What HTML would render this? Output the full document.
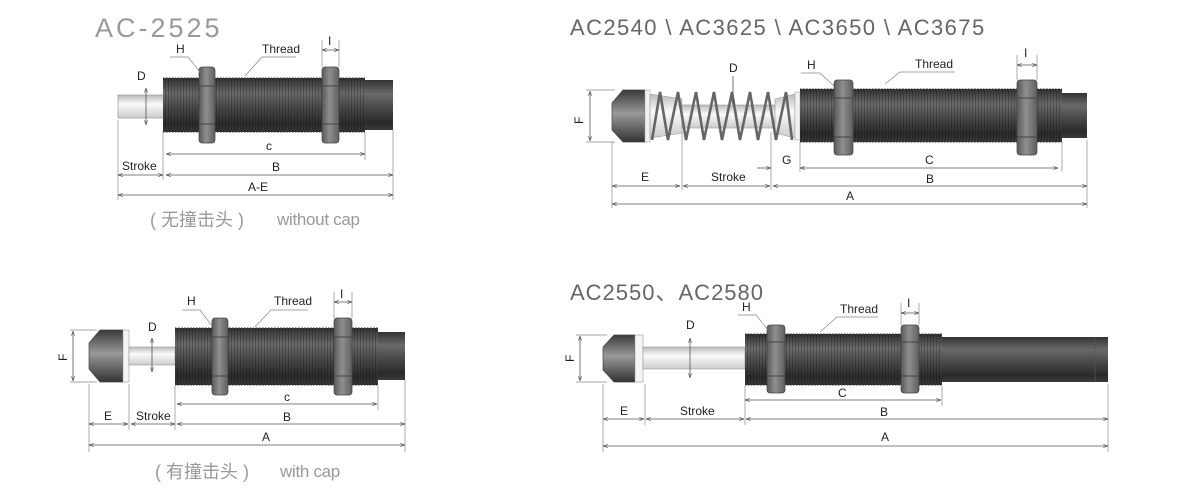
<!DOCTYPE html>
<html><head><meta charset="utf-8"><style>
html,body{margin:0;padding:0;background:#fff;}
svg{display:block;font-family:"Liberation Sans","Noto Sans CJK SC",sans-serif;}
.l{font-size:12px;fill:#222;}
.d{stroke:#555;stroke-width:0.8;fill:none;}
.e{stroke:#888;stroke-width:0.7;fill:none;}
.t{stroke:#333;stroke-width:3;stroke-dasharray:1.6 1.4;}
</style></head><body>
<svg width="1200" height="500" viewBox="0 0 1200 500">
<defs>
<linearGradient id="bg" x1="0" y1="0" x2="0" y2="1">
<stop offset="0" stop-color="#333"/><stop offset="0.28" stop-color="#6a6a6a"/><stop offset="0.55" stop-color="#4a4a4a"/><stop offset="0.85" stop-color="#2a2a2a"/><stop offset="1" stop-color="#3a3a3a"/></linearGradient>
<linearGradient id="ng" x1="0" y1="0" x2="1" y2="0">
<stop offset="0" stop-color="#5a5a5a"/><stop offset="0.45" stop-color="#8f8f8f"/><stop offset="1" stop-color="#5f5f5f"/></linearGradient>
<linearGradient id="rg" x1="0" y1="0" x2="0" y2="1">
<stop offset="0" stop-color="#bbb"/><stop offset="0.4" stop-color="#fafafa"/><stop offset="1" stop-color="#ccc"/></linearGradient>
<linearGradient id="cg" x1="0" y1="0" x2="0" y2="1">
<stop offset="0" stop-color="#3a3a3a"/><stop offset="0.45" stop-color="#999"/><stop offset="1" stop-color="#333"/></linearGradient>
<pattern id="st" patternUnits="userSpaceOnUse" width="3" height="10">
<rect x="0" y="0" width="1" height="10" fill="#000" opacity="0.22"/></pattern>
<marker id="a" viewBox="0 0 6 6" refX="6" refY="3" markerWidth="6" markerHeight="6" orient="auto-start-reverse">
<path d="M0,1 L6,3 L0,5" fill="none" stroke="#555" stroke-width="0.8"/></marker>
</defs>

<!-- ===== TOP LEFT ===== -->
<text x="95" y="37" font-size="27" fill="#999" letter-spacing="3">AC-2525</text>
<rect x="118" y="95" width="48" height="23" fill="url(#rg)" stroke="#999" stroke-width="0.7"/>
<rect x="163" y="78" width="202" height="54" fill="url(#bg)"/>
<rect x="163" y="78" width="202" height="54" fill="url(#st)"/>
<line class="t" x1="163" y1="79" x2="365" y2="79"/><line class="t" x1="163" y1="131" x2="365" y2="131"/>
<rect x="365" y="80" width="28" height="50" fill="url(#bg)"/>
<rect x="199" y="67" width="16" height="76" rx="3" fill="url(#ng)" stroke="#444" stroke-width="0.7"/>
<line x1="199" y1="86" x2="215" y2="86" stroke="#444"/><line x1="199" y1="124" x2="215" y2="124" stroke="#444"/>
<rect x="322" y="67" width="17" height="76" rx="3" fill="url(#ng)" stroke="#444" stroke-width="0.7"/>
<line x1="322" y1="86" x2="339" y2="86" stroke="#444"/><line x1="322" y1="124" x2="339" y2="124" stroke="#444"/>
<text class="l" x="137" y="80">D</text>
<line class="d" x1="146" y1="88" x2="146" y2="125" marker-start="url(#a)" marker-end="url(#a)"/>
<text class="l" x="176" y="53">H</text><polyline class="e" points="170,57 188,57 200,72"/>
<text class="l" x="262" y="53">Thread</text><polyline class="e" points="245,76 262,57 296,57"/>
<text class="l" x="328" y="45">I</text>
<line class="e" x1="322" y1="40" x2="322" y2="67"/><line class="e" x1="339" y1="40" x2="339" y2="67"/>
<line class="d" x1="322" y1="50" x2="339" y2="50" marker-start="url(#a)" marker-end="url(#a)"/>
<line class="e" x1="118" y1="120" x2="118" y2="200"/><line class="e" x1="163" y1="132" x2="163" y2="180"/>
<line class="e" x1="365" y1="132" x2="365" y2="160"/><line class="e" x1="393" y1="130" x2="393" y2="200"/>
<line class="d" x1="166" y1="154" x2="365" y2="154" marker-start="url(#a)" marker-end="url(#a)"/><text class="l" x="266" y="150">c</text>
<line class="d" x1="118" y1="175" x2="163" y2="175" marker-start="url(#a)" marker-end="url(#a)"/><text class="l" x="122" y="170">Stroke</text>
<line class="d" x1="166" y1="175" x2="393" y2="175" marker-start="url(#a)" marker-end="url(#a)"/><text class="l" x="272" y="171">B</text>
<line class="d" x1="118" y1="195" x2="393" y2="195" marker-start="url(#a)" marker-end="url(#a)"/><text class="l" x="248" y="191">A-E</text>
<text x="150" y="226" font-size="18" fill="#999">( 无撞击头 )</text><text x="277" y="225" font-size="17" fill="#999" letter-spacing="-0.3">without cap</text>

<!-- ===== TOP RIGHT ===== -->
<text x="570" y="35" font-size="22" fill="#666" letter-spacing="1.4">AC2540 \ AC3625 \ AC3650 \ AC3675</text>
<polygon points="612,103 623,90 645,90 645,142 623,142 612,130" fill="url(#cg)" stroke="#444" stroke-width="0.7"/>
<rect x="645" y="90" width="5" height="52" fill="#f2f2f2" stroke="#aaa" stroke-width="0.6"/>
<polygon points="650,94 682,99 682,133 650,138" fill="url(#rg)" stroke="#999" stroke-width="0.6"/>
<rect x="682" y="105" width="93" height="23" fill="url(#rg)" stroke="#999" stroke-width="0.6"/>
<polygon points="775,99 795,94 795,138 775,133" fill="url(#rg)" stroke="#999" stroke-width="0.6"/>
<rect x="795" y="92" width="5" height="48" fill="#f2f2f2" stroke="#aaa" stroke-width="0.6"/>
<path d="M652,140 L660,92 L668,140 L678,92 L686,140 L696,92 L704,140 L714,92 L722,140 L732,92 L740,140 L750,92 L758,140 L768,92 L776,140 L786,92 L792,140" fill="none" stroke="#666" stroke-width="2.6"/>
<rect x="800" y="89" width="262" height="53" fill="url(#bg)"/>
<rect x="800" y="89" width="262" height="53" fill="url(#st)"/>
<line class="t" x1="800" y1="90" x2="1062" y2="90"/><line class="t" x1="800" y1="141" x2="1062" y2="141"/>
<rect x="1062" y="93" width="25" height="45" fill="url(#bg)"/>
<rect x="834" y="80" width="19" height="75" rx="3" fill="url(#ng)" stroke="#444" stroke-width="0.7"/>
<line x1="834" y1="98" x2="853" y2="98" stroke="#444"/><line x1="834" y1="137" x2="853" y2="137" stroke="#444"/>
<rect x="1017" y="80" width="20" height="75" rx="3" fill="url(#ng)" stroke="#444" stroke-width="0.7"/>
<line x1="1017" y1="98" x2="1037" y2="98" stroke="#444"/><line x1="1017" y1="137" x2="1037" y2="137" stroke="#444"/>
<line class="e" x1="586" y1="90" x2="615" y2="90"/><line class="e" x1="586" y1="142" x2="615" y2="142"/>
<line class="d" x1="590" y1="91" x2="590" y2="141" marker-start="url(#a)" marker-end="url(#a)"/>
<text class="l" transform="translate(583,124) rotate(-90)">F</text>
<text class="l" x="729" y="72">D</text><line class="d" x1="733" y1="76" x2="733" y2="105" marker-end="url(#a)"/>
<text class="l" x="807" y="69">H</text><polyline class="e" points="801,73 820,73 834,86"/>
<text class="l" x="915" y="68">Thread</text><polyline class="e" points="885,84 900,72 955,72"/>
<text class="l" x="1024" y="57">I</text>
<line class="e" x1="1017" y1="55" x2="1017" y2="80"/><line class="e" x1="1037" y1="55" x2="1037" y2="80"/>
<line class="d" x1="1017" y1="65" x2="1037" y2="65" marker-start="url(#a)" marker-end="url(#a)"/>
<line class="e" x1="612" y1="142" x2="612" y2="208"/><line class="e" x1="682" y1="132" x2="682" y2="190"/>
<line class="e" x1="771" y1="132" x2="771" y2="190"/><line class="e" x1="800" y1="142" x2="800" y2="172"/>
<line class="e" x1="1062" y1="142" x2="1062" y2="172"/><line class="e" x1="1087" y1="140" x2="1087" y2="208"/>
<line class="d" x1="757" y1="168" x2="771" y2="168" marker-end="url(#a)"/><line class="d" x1="800" y1="168" x2="1058" y2="168" marker-start="url(#a)" marker-end="url(#a)"/>
<text class="l" x="782" y="164">G</text><text class="l" x="925" y="164">C</text>
<line class="d" x1="612" y1="186" x2="680" y2="186" marker-start="url(#a)" marker-end="url(#a)"/><text class="l" x="641" y="181">E</text>
<line class="d" x1="683" y1="186" x2="770" y2="186" marker-start="url(#a)" marker-end="url(#a)"/><text class="l" x="711" y="181">Stroke</text>
<line class="d" x1="773" y1="186" x2="1087" y2="186" marker-start="url(#a)" marker-end="url(#a)"/><text class="l" x="926" y="183">B</text>
<line class="d" x1="612" y1="204" x2="1087" y2="204" marker-start="url(#a)" marker-end="url(#a)"/><text class="l" x="846" y="200">A</text>

<!-- ===== BOTTOM LEFT ===== -->
<polygon points="89,343 100,330 123,330 123,382 100,382 89,369" fill="url(#cg)" stroke="#444" stroke-width="0.7"/>
<rect x="123" y="330" width="6" height="52" fill="#f5f5f5" stroke="#999" stroke-width="0.6"/>
<rect x="129" y="347" width="46" height="18" fill="url(#rg)" stroke="#999" stroke-width="0.6"/>
<rect x="175" y="328" width="203" height="57" fill="url(#bg)"/>
<rect x="175" y="328" width="203" height="57" fill="url(#st)"/>
<line class="t" x1="175" y1="329" x2="378" y2="329"/><line class="t" x1="175" y1="384" x2="378" y2="384"/>
<rect x="378" y="332" width="27" height="48" fill="url(#bg)"/>
<rect x="212" y="318" width="16" height="77" rx="3" fill="url(#ng)" stroke="#444" stroke-width="0.7"/>
<line x1="212" y1="337" x2="228" y2="337" stroke="#444"/><line x1="212" y1="376" x2="228" y2="376" stroke="#444"/>
<rect x="334" y="318" width="18" height="77" rx="3" fill="url(#ng)" stroke="#444" stroke-width="0.7"/>
<line x1="334" y1="337" x2="352" y2="337" stroke="#444"/><line x1="334" y1="376" x2="352" y2="376" stroke="#444"/>
<line class="e" x1="70" y1="330" x2="97" y2="330"/><line class="e" x1="70" y1="382" x2="97" y2="382"/>
<line class="d" x1="73" y1="331" x2="73" y2="381" marker-start="url(#a)" marker-end="url(#a)"/>
<text class="l" transform="translate(67,361) rotate(-90)">F</text>
<text class="l" x="148" y="331">D</text><line class="d" x1="152" y1="338" x2="152" y2="372" marker-start="url(#a)" marker-end="url(#a)"/>
<text class="l" x="187" y="305">H</text><polyline class="e" points="182,310 200,310 212,326"/>
<text class="l" x="274" y="305">Thread</text><polyline class="e" points="255,327 271,310 308,310"/>
<text class="l" x="340" y="298">I</text>
<line class="e" x1="334" y1="292" x2="334" y2="318"/><line class="e" x1="352" y1="292" x2="352" y2="318"/>
<line class="d" x1="334" y1="302" x2="352" y2="302" marker-start="url(#a)" marker-end="url(#a)"/>
<line class="e" x1="89" y1="384" x2="89" y2="452"/><line class="e" x1="129" y1="384" x2="129" y2="430"/>
<line class="e" x1="175" y1="386" x2="175" y2="430"/><line class="e" x1="378" y1="386" x2="378" y2="410"/>
<line class="e" x1="405" y1="380" x2="405" y2="452"/>
<line class="d" x1="177" y1="404" x2="377" y2="404" marker-start="url(#a)" marker-end="url(#a)"/><text class="l" x="284" y="401">c</text>
<line class="d" x1="89" y1="424" x2="128" y2="424" marker-start="url(#a)" marker-end="url(#a)"/><text class="l" x="104" y="420">E</text>
<line class="d" x1="131" y1="424" x2="175" y2="424" marker-start="url(#a)" marker-end="url(#a)"/><text class="l" x="136" y="420">Stroke</text>
<line class="d" x1="177" y1="424" x2="405" y2="424" marker-start="url(#a)" marker-end="url(#a)"/><text class="l" x="283" y="421">B</text>
<line class="d" x1="89" y1="445" x2="405" y2="445" marker-start="url(#a)" marker-end="url(#a)"/><text class="l" x="262" y="441">A</text>
<text x="155" y="478" font-size="18" fill="#999">( 有撞击头 )</text><text x="280" y="477" font-size="17" fill="#999" letter-spacing="-0.3">with cap</text>

<!-- ===== BOTTOM RIGHT ===== -->
<text x="570" y="300" font-size="22" fill="#666" letter-spacing="1">AC2550、AC2580</text>
<polygon points="603,347 614,335 635,335 635,382 614,382 603,370" fill="url(#cg)" stroke="#444" stroke-width="0.7"/>
<rect x="635" y="335" width="8" height="47" fill="#f5f5f5" stroke="#999" stroke-width="0.6"/>
<rect x="643" y="347" width="102" height="22" fill="url(#rg)" stroke="#999" stroke-width="0.6"/>
<rect x="745" y="334" width="197" height="51" fill="url(#bg)"/>
<rect x="745" y="334" width="197" height="51" fill="url(#st)"/>
<line class="t" x1="745" y1="335" x2="942" y2="335"/><line class="t" x1="745" y1="384" x2="942" y2="384"/>
<rect x="942" y="337" width="166" height="45" fill="url(#bg)"/>
<line x1="1095" y1="337" x2="1095" y2="382" stroke="#555" stroke-width="0.8"/>
<rect x="767" y="325" width="18" height="68" rx="3" fill="url(#ng)" stroke="#444" stroke-width="0.7"/>
<line x1="767" y1="342" x2="785" y2="342" stroke="#444"/><line x1="767" y1="376" x2="785" y2="376" stroke="#444"/>
<rect x="901" y="325" width="18" height="68" rx="3" fill="url(#ng)" stroke="#444" stroke-width="0.7"/>
<line x1="901" y1="342" x2="919" y2="342" stroke="#444"/><line x1="901" y1="376" x2="919" y2="376" stroke="#444"/>
<line class="e" x1="576" y1="335" x2="607" y2="335"/><line class="e" x1="576" y1="382" x2="607" y2="382"/>
<line class="d" x1="580" y1="336" x2="580" y2="381" marker-start="url(#a)" marker-end="url(#a)"/>
<text class="l" transform="translate(574,362) rotate(-90)">F</text>
<text class="l" x="686" y="329">D</text><line class="d" x1="690" y1="338" x2="690" y2="378" marker-start="url(#a)" marker-end="url(#a)"/>
<text class="l" x="742" y="311">H</text><polyline class="e" points="738,315 756,315 768,330"/>
<text class="l" x="840" y="313">Thread</text><polyline class="e" points="820,332 837,317 878,317"/>
<text class="l" x="907" y="307">I</text>
<line class="e" x1="901" y1="303" x2="901" y2="325"/><line class="e" x1="919" y1="303" x2="919" y2="325"/>
<line class="d" x1="901" y1="313" x2="919" y2="313" marker-start="url(#a)" marker-end="url(#a)"/>
<line class="e" x1="603" y1="384" x2="603" y2="452"/><line class="e" x1="645" y1="384" x2="645" y2="425"/>
<line class="e" x1="745" y1="386" x2="745" y2="425"/><line class="e" x1="942" y1="386" x2="942" y2="406"/>
<line class="e" x1="1108" y1="384" x2="1108" y2="452"/>
<line class="d" x1="745" y1="400" x2="941" y2="400" marker-start="url(#a)" marker-end="url(#a)"/><text class="l" x="838" y="397">C</text>
<line class="d" x1="603" y1="419" x2="644" y2="419" marker-start="url(#a)" marker-end="url(#a)"/><text class="l" x="620" y="415">E</text>
<line class="d" x1="646" y1="419" x2="744" y2="419" marker-start="url(#a)" marker-end="url(#a)"/><text class="l" x="680" y="415">Stroke</text>
<line class="d" x1="746" y1="419" x2="1108" y2="419" marker-start="url(#a)" marker-end="url(#a)"/><text class="l" x="880" y="416">B</text>
<line class="d" x1="603" y1="446" x2="1108" y2="446" marker-start="url(#a)" marker-end="url(#a)"/><text class="l" x="881" y="441">A</text>
</svg>
</body></html>
